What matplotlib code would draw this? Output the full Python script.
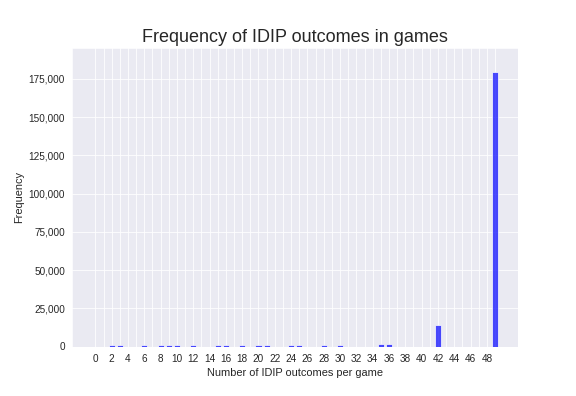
import matplotlib
matplotlib.use("Agg")
import matplotlib.pyplot as plt
import seaborn as sns

# outcome count per game -> number of games
outcomes = list(range(50))
counts = [0] * 50
small = {2: 750, 3: 750, 6: 700, 8: 750, 9: 700, 10: 750, 12: 700, 15: 750,
         16: 750, 18: 700, 20: 750, 21: 750, 24: 700, 25: 700, 28: 700, 30: 700,
         35: 1600, 36: 1600, 42: 14100, 49: 179500}
for k, v in small.items():
    counts[k] = v

tick_pos = list(range(50))
tick_labels = [str(i) if i % 2 == 0 else "" for i in tick_pos]

sns.set_style("darkgrid")
plt.rcParams["font.family"] = ["Liberation Sans", "DejaVu Sans"]

fig, ax = plt.subplots(figsize=(8, 5.5), dpi=72)
fig.subplots_adjust(left=0.125, right=0.9, bottom=0.125, top=0.88)
ax.bar(outcomes, counts, width=0.75, color="blue", alpha=0.7)
ax.set_xticks(tick_pos)
ax.set_xticklabels(tick_labels, fontsize=10)
ax.tick_params(axis="y", labelsize=10)
ax.yaxis.set_major_formatter(matplotlib.ticker.FuncFormatter(lambda v, p: f"{int(v):,}"))
ax.set_ylim(0, 195500)
ax.set_xlabel("Number of IDIP outcomes per game", fontsize=11)
ax.set_ylabel("Frequency", fontsize=11)
ax.set_title("Frequency of IDIP outcomes in games", fontsize=18)
fig.savefig("out.png", dpi=72)
